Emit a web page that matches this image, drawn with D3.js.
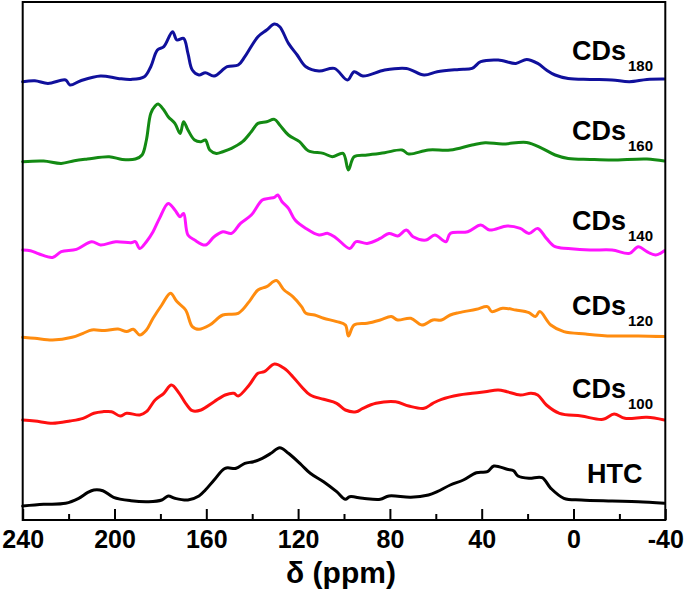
<!DOCTYPE html>
<html>
<head>
<meta charset="utf-8">
<script src="https://cdn.jsdelivr.net/npm/d3@7"></script>
<style>
  html, body { margin: 0; padding: 0; background: #fff; }
  svg { display: block; }
  text { font-family: "Liberation Sans", Arial, Helvetica, sans-serif; font-weight: bold; fill: #000; }
</style>
</head>
<body>
<svg id="chart" width="685" height="598"></svg>
<script>
// ---- Data ----
const seriesNames = ["CDs180", "CDs160", "CDs140", "CDs120", "CDs100", "HTC"];
const seriesLabelMain = ["CDs", "CDs", "CDs", "CDs", "CDs", "HTC"];
const seriesLabelSub = ["180", "160", "140", "120", "100", ""];
const seriesColors = ["#10109c", "#138a13", "#ff14ff", "#ff8c0f", "#ff1010", "#000000"];
// vertical stacking offsets (a.u.)
const seriesOffsets = [438.3, 358.3, 268.3, 182.7, 100, 15];

const xTickValues = [240, 200, 160, 120, 80, 40, 0, -40];
const xMinorTickValues = [220, 180, 140, 100, 60, 20, -20];
const xTickLabels = ["240", "200", "160", "120", "80", "40", "0", "-40"];
const xAxisTitle = "\u03B4 (ppm)";

const ppm180 = [240.0,234.7,229.0,221.3,219.4,214.7,206.1,198.5,192.8,187.0,184.2,181.3,178.5,174.7,172.8,169.9,168.0,166.1,163.2,160.4,156.6,150.9,146.1,143.2,137.5,133.7,130.3,128.0,124.2,120.4,116.6,110.9,104.2,98.5,95.6,91.8,82.3,72.8,65.1,59.4,49.9,44.2,40.4,32.8,25.1,20.4,15.6,11.8,8.0,2.3,-7.2,-16.8,-24.4,-32.0,-39.6];
const int180 = [0,1,-1.7,1.7,-3.3,1,5.7,3.3,2.3,5,15,31.7,35,50,41.7,43.3,28.3,11.7,6.7,9,5.7,15,16.7,25,45,51.7,57.7,55,38.3,26.7,15,10.7,13.3,1.7,10,5.7,11.7,13.3,6.7,10,12.3,13.3,20,21.7,18.3,22.3,18.3,11.7,6.7,3.3,2.3,1.7,0,2.3,2.7];

const ppm160 = [240.0,230.9,223.2,217.5,211.8,202.3,196.6,190.9,188.0,186.1,184.2,182.3,181.0,178.5,176.6,173.7,171.4,169.9,168.0,165.1,162.3,160.4,158.5,155.6,152.8,149.0,144.2,140.4,137.5,133.7,130.3,128.0,124.2,119.4,115.6,109.0,105.1,100.4,98.1,95.6,89.9,82.3,74.7,71.8,63.2,53.7,44.2,38.5,30.9,20.4,13.7,8.0,2.3,-7.2,-16.8,-32.0,-39.6];
const int160 = [0,0.7,-1.7,1,2.7,5,2.3,2.7,6.7,21.7,48.3,55.7,57.7,51.7,45,38.3,28.3,40,31.7,21.7,20,21.7,11.7,8.3,10,13.3,20,30,38.3,40,42.3,36.7,26.7,20,11,8.3,5,8.3,-8.3,5,6.7,9,11.7,7.7,11.7,11.7,16.7,19,17.7,19.3,13.3,6.7,3.3,2.3,1.7,2.7,0.7];

const ppm140 = [240.0,236.6,232.8,227.0,223.2,216.6,209.9,206.1,199.4,192.8,190.9,189.0,186.1,183.2,180.4,176.6,173.7,171.4,169.9,168.0,165.1,160.4,156.6,152.8,149.0,145.1,140.4,135.6,132.8,130.3,128.9,127.0,124.2,121.3,116.6,110.9,107.0,103.2,97.5,94.7,89.9,84.2,80.4,76.6,72.8,69.9,64.2,60.4,55.6,53.7,46.1,40.4,36.6,28.9,23.2,19.4,15.6,11.8,8.0,2.3,-7.2,-16.8,-24.4,-28.2,-32.0,-35.8,-39.6];
const int140 = [1.7,1,-2.3,-5.7,0,2.3,10,6.7,10,9,10,3.3,10,20,33.3,48.3,41.7,35,38.3,16.7,11.7,6.7,15,20,18.3,28.3,36.7,51.7,53.3,54.3,56.7,50,43.3,31.7,23.3,16.7,18.3,13.3,3.3,10,8.3,13.3,18.3,15.7,21.7,15,11.7,16.7,10,18.3,20,26.7,21.7,25.7,23.3,18.3,23.3,13.3,5,3.3,1.7,1.7,-1.7,5,0,-3.3,1];

const ppm120 = [240.0,234.7,227.0,218.5,213.7,209.9,204.2,198.5,194.7,191.8,189.0,186.1,183.2,179.4,175.6,172.8,169.0,166.1,163.2,158.5,152.8,146.1,141.3,137.5,133.7,129.5,126.1,122.3,118.5,116.6,112.8,108.9,103.2,99.4,98.1,95.6,89.9,84.2,79.4,76.6,70.9,66.1,61.3,57.5,53.7,49.9,42.3,37.5,35.6,30.9,25.1,19.4,16.6,14.7,9.9,4.2,-5.3,-16.8,-28.2,-39.6];
const int120 = [0,-1,-2.7,0,4,7.3,6.7,8.3,5.7,8,2.3,7.3,19,32.3,44,35.7,27.3,10.7,8,12.3,22.3,24,35.7,47.3,50.7,56.7,47.3,40.7,30.7,24,22.3,19,15.7,12.3,1.3,12.3,14,17.3,20.7,17.3,19,12.3,17.3,17.3,22.3,24.7,28,30.7,25.7,29,27.3,24.7,20.7,25.7,12.3,5.7,3.3,1.3,1.3,0.7];

const ppm100 = [240.0,234.7,227.0,219.4,213.7,209.0,205.1,201.3,197.5,194.7,189.0,186.1,182.3,178.5,175.2,171.8,169.0,166.1,162.3,156.6,151.8,148.0,146.1,141.3,137.5,134.7,130.3,126.1,122.3,118.5,114.7,108.9,103.2,99.4,94.7,91.8,86.1,77.5,71.8,65.1,61.3,57.5,49.9,44.2,38.5,32.8,29.0,23.2,18.5,15.6,11.8,6.1,-3.4,-12.9,-17.7,-22.4,-32.0,-39.6];
const int100 = [0,-1,-3.3,-1,1.7,6.7,8.3,8.3,4,6.7,5,8.3,20,26.7,35,26.7,16.7,9.3,10,18.3,25,26.7,24,35,46.7,48.3,56,51.7,43.3,33.3,25,20.7,16.7,10,8.3,11.7,16.7,18.3,14,11.7,16.7,20.7,25,26.7,28.3,30,28.3,25,26.7,25,15,6.7,4,0.7,6,1.7,2.7,0];

const ppmHTC = [240.0,230.9,221.3,215.6,211.8,209.0,205.1,200.4,192.8,185.1,179.4,176.6,173.7,168.0,163.2,160.4,156.6,151.8,147.0,143.2,139.4,135.6,131.8,128.0,124.2,118.5,114.7,108.9,103.2,99.4,97.5,91.8,84.2,80.4,70.9,63.2,59.4,53.7,48.0,42.3,37.5,34.7,28.9,26.1,24.2,19.4,13.7,9.9,4.2,-3.4,-16.8,-28.2,-39.6];
const intHTC = [-1,0.7,1.7,6.7,12.3,15,14.3,7.7,4.3,3.3,5,9,6.7,5,9,15,25,36.7,36.7,41.7,43.3,46.7,51.7,57.3,51.7,40,31.7,23.3,13.3,5.7,8.3,6.7,5.7,9,7.7,10,13.3,20,25,32.3,33.3,39,35.7,34.3,29,26.7,27.3,16.7,6.7,5,4,3.3,1.7];

const seriesPpm = [ppm180, ppm160, ppm140, ppm120, ppm100, ppmHTC];
const seriesInt = [int180, int160, int140, int120, int100, intHTC];

// ---- Layout ----
const svg = d3.select("#chart");
const plotLeft = 22.7, plotRight = 665.3, plotTop = 2, plotBottom = 520;

const x = d3.scaleLinear().domain([240, -40]).range([plotLeft, plotRight]);
const y = d3.scaleLinear().domain([0, 518]).range([plotBottom, plotTop]);

// curves
const line = d3.line().x(d => x(d[0])).y(d => y(d[1])).curve(d3.curveCatmullRom.alpha(0.5));
seriesNames.forEach((name, i) => {
  const pts = seriesPpm[i].map((p, j) => [p, seriesInt[i][j] + seriesOffsets[i]]);
  svg.append("path")
    .attr("d", line(pts))
    .attr("fill", "none")
    .attr("stroke", seriesColors[i])
    .attr("stroke-width", 3)
    .attr("stroke-linejoin", "round")
    .attr("stroke-linecap", "round");
});

// frame
svg.append("rect")
  .attr("x", plotLeft).attr("y", plotTop)
  .attr("width", plotRight - plotLeft).attr("height", plotBottom - plotTop)
  .attr("fill", "none").attr("stroke", "#000").attr("stroke-width", 2);

// x axis: major ticks (inward) with labels
const xAxis = d3.axisBottom(x)
  .tickValues(xTickValues)
  .tickSize(-11)
  .tickPadding(10)
  .tickFormat((d, i) => xTickLabels[i]);
const gx = svg.append("g").attr("transform", `translate(0,${plotBottom})`).call(xAxis);
gx.select(".domain").remove();
gx.selectAll(".tick line").attr("stroke", "#000").attr("stroke-width", 2);
gx.selectAll(".tick text")
  .attr("font-size", 25)
  .style("font-family", '"Liberation Sans", Arial, sans-serif')
  .style("font-weight", "bold")
  .attr("fill", "#000");

// minor ticks
const xMinor = d3.axisBottom(x).tickValues(xMinorTickValues).tickSize(-6).tickFormat("");
const gxm = svg.append("g").attr("transform", `translate(0,${plotBottom})`).call(xMinor);
gxm.select(".domain").remove();
gxm.selectAll(".tick line").attr("stroke", "#000").attr("stroke-width", 2);

// axis title
svg.append("text")
  .attr("x", (plotLeft + plotRight) / 2 - 3)
  .attr("y", 583)
  .attr("text-anchor", "middle")
  .attr("font-size", 30)
  .text(xAxisTitle);

// series labels
seriesNames.forEach((name, i) => {
  const base = y(seriesOffsets[i]);
  const t = svg.append("text")
    .attr("x", seriesLabelSub[i] ? 572 : 587)
    .attr("y", base - 22)
    .attr("font-size", 27);
  t.append("tspan").text(seriesLabelMain[i]);
  if (seriesLabelSub[i]) {
    t.append("tspan").attr("font-size", 15).attr("dx", 2).attr("dy", 11).text(seriesLabelSub[i]);
  }
});
</script>
</body>
</html>
